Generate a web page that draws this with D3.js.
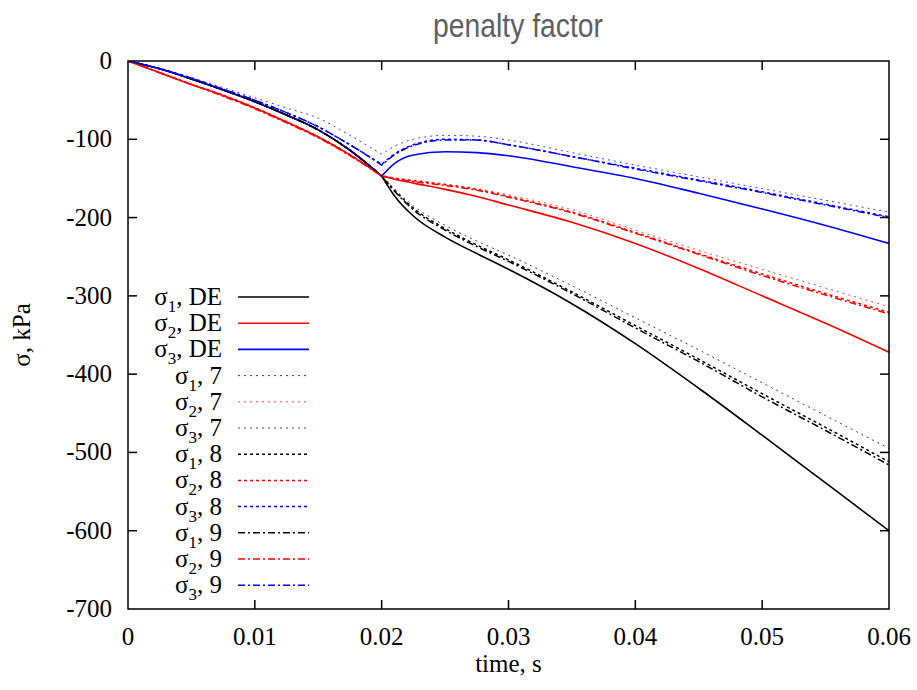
<!DOCTYPE html>
<html>
<head>
<meta charset="utf-8">
<script src="https://cdn.jsdelivr.net/npm/d3@7"></script>
<style>
  html, body { margin: 0; padding: 0; background: #fff; }
  svg { display: block; }
  .serif { font-family: "Liberation Serif", "Times New Roman", Times, "DejaVu Serif", serif; }
  .sans { font-family: "Liberation Sans", Arial, Helvetica, sans-serif; }
</style>
</head>
<body>
<svg id="chart" width="917" height="690"></svg>
<script>
// Time samples, s (index 8 is the load switch at t = 0.02)
const time = [0, 0.0025, 0.005, 0.0075, 0.01, 0.0125, 0.015, 0.0175, 0.02,
              0.021, 0.0225, 0.025, 0.0275, 0.03, 0.035, 0.04, 0.045, 0.05, 0.055, 0.06];

// Principal stresses, kPa
const s1_DE = [0, -10, -23, -37, -52, -69, -88, -114, -147, -172, -198, -225, -246, -266, -310, -361, -418, -478, -539, -600];
const s2_DE = [0, -15, -30, -44, -60, -78, -97, -120, -147, -151, -156, -164, -173, -184, -206, -233, -265, -300, -335, -372];
const s3_DE = [0, -10, -23, -37, -52, -69, -88, -114, -147, -131, -120, -116, -117, -121, -135, -150, -169, -189, -210, -233];
const s1_7  = [0, -10, -23, -37, -52, -69, -88, -114, -147, -163, -185, -210, -230, -248, -287, -328, -369, -411, -453, -495];
const s2_7  = [0, -14, -29, -43, -59, -77, -96, -119, -146, -149, -152, -157, -163, -171, -190, -216, -242, -266, -290, -314];
const s3_7  = [0, -9, -21, -34, -47, -60, -73, -95, -119, -109, -100, -95, -96, -101, -117, -133, -148, -163, -178, -193];
const s1_8  = [0, -10, -23, -37, -52, -69, -88, -114, -147, -165, -188, -214, -235, -254, -295, -338, -381, -425, -468, -512];
const s2_8  = [0, -15, -30, -44, -60, -78, -97, -120, -147, -150, -153, -158, -164, -173, -193, -219, -246, -272, -297, -321];
const s3_8  = [0, -10, -22, -36, -50, -66, -84, -107, -132, -119, -107, -100, -101, -107, -122, -137, -152, -167, -183, -199];
const s1_9  = [0, -10, -23, -37, -52, -69, -88, -114, -147, -166, -190, -216, -237, -256, -297, -341, -384, -429, -472, -516];
const s2_9  = [0, -15, -30, -45, -61, -79, -98, -121, -147, -150, -154, -159, -165, -174, -194, -220, -247, -274, -299, -323];
const s3_9  = [0, -10, -22, -36, -50, -66, -84, -107, -133, -120, -108, -101, -101, -107, -122, -138, -153, -168, -184, -200];

const seriesValues = [s1_DE, s2_DE, s3_DE, s1_7, s2_7, s3_7, s1_8, s2_8, s3_8, s1_9, s2_9, s3_9];
const seriesIndex = ["1", "2", "3", "1", "2", "3", "1", "2", "3", "1", "2", "3"];
const seriesRun = ["DE", "DE", "DE", "7", "7", "7", "8", "8", "8", "9", "9", "9"];

const xTicks = [0, 0.01, 0.02, 0.03, 0.04, 0.05, 0.06];
const xTickLabels = ["0", "0.01", "0.02", "0.03", "0.04", "0.05", "0.06"];
const yTicks = [0, -100, -200, -300, -400, -500, -600, -700];
const yTickLabels = ["0", "-100", "-200", "-300", "-400", "-500", "-600", "-700"];

const switchIndex = 8;

// Styling
const colorOf = { "1": "#000000", "2": "#ff0000", "3": "#0000ff" };
const styleOf = {
  "DE": { width: 1.6, dash: null, opacity: 1 },
  "7":  { width: 1.0, dash: "2,4", opacity: 0.75 },
  "8":  { width: 1.5, dash: "3,3", opacity: 1 },
  "9":  { width: 1.5, dash: "7,3,2,3", opacity: 1 }
};

const svg = d3.select("#chart");
const margin = { left: 128, right: 28, top: 61, bottom: 81 };
const W = 917, H = 690;
const x = d3.scaleLinear().domain([0, 0.06]).range([margin.left, W - margin.right]);
const y = d3.scaleLinear().domain([-700, 0]).range([H - margin.bottom, margin.top]);

// Title
svg.append("text")
  .attr("class", "sans")
  .attr("x", 518).attr("y", 37)
  .attr("text-anchor", "middle")
  .attr("font-size", 33)
  .attr("fill", "#606060")
  .attr("textLength", 170)
  .attr("lengthAdjust", "spacingAndGlyphs")
  .text("penalty factor");

// Clip for curves
svg.append("clipPath").attr("id", "plotClip")
  .append("rect")
  .attr("x", x(0)).attr("y", y(0))
  .attr("width", x(0.06) - x(0)).attr("height", y(-700) - y(0));

const line = d3.line()
  .x(d => x(d[0])).y(d => y(d[1]))
  .curve(d3.curveMonotoneX);

const plot = svg.append("g").attr("clip-path", "url(#plotClip)");

seriesValues.forEach((vals, i) => {
  const pts = time.map((t, k) => [t, vals[k]]);
  const before = pts.slice(0, switchIndex + 1);
  const after = pts.slice(switchIndex);
  const st = styleOf[seriesRun[i]];
  plot.append("path")
    .attr("d", line(before) + line(after).replace(/^M/, "L"))
    .attr("fill", "none")
    .attr("stroke", colorOf[seriesIndex[i]])
    .attr("stroke-width", st.width)
    .attr("stroke-opacity", st.opacity)
    .attr("stroke-dasharray", st.dash)
    .attr("stroke-linejoin", "round");
});

// Axes (ticks pointing inward, mirrored on all sides)
const tickLen = 9;
const axes = svg.append("g").attr("stroke", "#000").attr("stroke-width", 1.5);
xTicks.forEach(t => {
  if (t === 0 || t === 0.06) return;
  axes.append("line").attr("x1", x(t)).attr("x2", x(t)).attr("y1", y(-700)).attr("y2", y(-700) - tickLen);
  axes.append("line").attr("x1", x(t)).attr("x2", x(t)).attr("y1", y(0)).attr("y2", y(0) + tickLen);
});
yTicks.forEach(v => {
  if (v === 0 || v === -700) return;
  axes.append("line").attr("x1", x(0)).attr("x2", x(0) + tickLen).attr("y1", y(v)).attr("y2", y(v));
  axes.append("line").attr("x1", x(0.06)).attr("x2", x(0.06) - tickLen).attr("y1", y(v)).attr("y2", y(v));
});
svg.append("rect")
  .attr("x", x(0)).attr("y", y(0))
  .attr("width", x(0.06) - x(0)).attr("height", y(-700) - y(0))
  .attr("fill", "none").attr("stroke", "#000").attr("stroke-width", 1.5);

// Tick labels
svg.append("g").selectAll("text").data(xTicks).join("text")
  .attr("class", "serif")
  .attr("x", d => x(d)).attr("y", H - margin.bottom + 36)
  .attr("text-anchor", "middle")
  .attr("font-size", 25)
  .text((d, i) => xTickLabels[i]);

svg.append("g").selectAll("text").data(yTicks).join("text")
  .attr("class", "serif")
  .attr("x", x(0) - 16).attr("y", d => y(d) + 8)
  .attr("text-anchor", "end")
  .attr("font-size", 25)
  .text((d, i) => yTickLabels[i]);

// Axis titles
svg.append("text")
  .attr("class", "serif")
  .attr("x", x(0.03)).attr("y", 672)
  .attr("text-anchor", "middle")
  .attr("font-size", 25)
  .text("time, s");

svg.append("text")
  .attr("class", "serif")
  .attr("transform", `translate(30,${y(-350)}) rotate(-90)`)
  .attr("text-anchor", "middle")
  .attr("font-size", 25)
  .text("σ, kPa");

// Legend
const legend = svg.append("g");
const rowY0 = 297, rowStep = 26.2;
seriesValues.forEach((vals, i) => {
  const yy = rowY0 + i * rowStep;
  const st = styleOf[seriesRun[i]];
  const txt = legend.append("text")
    .attr("class", "serif")
    .attr("x", 222).attr("y", yy + 8)
    .attr("text-anchor", "end")
    .attr("font-size", 25);
  txt.append("tspan").text("σ");
  txt.append("tspan").attr("font-size", 17).attr("dy", 7).text(seriesIndex[i]);
  txt.append("tspan").attr("dy", -7).text(", " + seriesRun[i]);
  legend.append("line")
    .attr("x1", 238).attr("x2", 309)
    .attr("y1", yy).attr("y2", yy)
    .attr("stroke", colorOf[seriesIndex[i]])
    .attr("stroke-width", st.width)
    .attr("stroke-opacity", st.opacity)
    .attr("stroke-dasharray", st.dash);
});
</script>
</body>
</html>
